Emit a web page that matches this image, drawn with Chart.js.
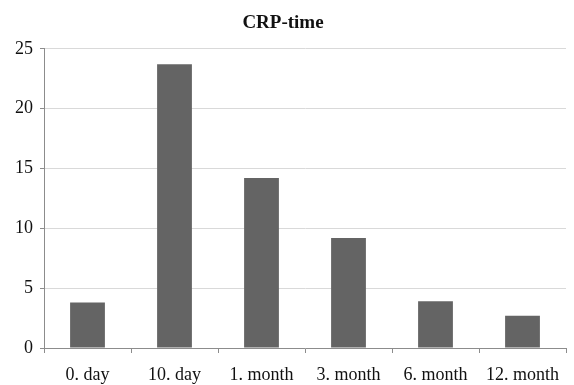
<!DOCTYPE html>
<html>
<head>
<meta charset="utf-8">
<script src="https://cdn.jsdelivr.net/npm/chart.js@4"></script>
<style>
  html, body { margin: 0; padding: 0; background: #ffffff; }
  #wrap { width: 574px; height: 385px; }
</style>
</head>
<body>
<div id="wrap"><canvas id="c" width="574" height="385"></canvas></div>
<script>
// CRP level over time after treatment
const categories = ['0. day', '10. day', '1. month', '3. month', '6. month', '12. month'];
const crpValues = [3.8, 23.7, 14.2, 9.2, 3.9, 2.7];
const yTicks = [0, 5, 10, 15, 20, 25];

const serif = '"Liberation Serif", "Times New Roman", serif';
const axisGrey = '#8c8c8c';

new Chart(document.getElementById('c'), {
  type: 'bar',
  data: {
    labels: categories,
    datasets: [{
      label: 'CRP',
      data: crpValues,
      backgroundColor: '#646464',
      borderWidth: 0,
      categoryPercentage: 1.0,
      barPercentage: 0.4
    }]
  },
  options: {
    responsive: false,
    animation: false,
    layout: { padding: { left: 0, right: 8, top: 0, bottom: 0 } },
    plugins: {
      legend: { display: false },
      tooltip: { enabled: false },
      title: {
        display: true,
        text: 'CRP-time',
        color: '#111111',
        font: { family: serif, size: 19, weight: 'bold' },
        padding: { top: 12, bottom: 14 }
      }
    },
    scales: {
      x: {
        grid: {
          display: true,
          offset: true,
          drawOnChartArea: false,
          drawTicks: true,
          tickLength: 5,
          tickColor: axisGrey
        },
        border: { display: true, color: axisGrey, width: 1 },
        ticks: {
          color: '#111111',
          font: { family: serif, size: 18 },
          padding: 11,
          maxRotation: 0,
          autoSkip: false
        },
        afterFit: s => { s.height = 37; }
      },
      y: {
        min: 0,
        max: 25,
        afterBuildTicks: s => { s.ticks = yTicks.map(v => ({ value: v })); },
        grid: {
          color: '#d9d9d9',
          drawTicks: true,
          tickLength: 4,
          tickColor: axisGrey
        },
        border: { display: true, color: axisGrey, width: 1 },
        ticks: {
          color: '#111111',
          font: { family: serif, size: 18 },
          padding: 7
        },
        afterFit: s => { s.width = 44; }
      }
    }
  }
});
</script>
</body>
</html>
